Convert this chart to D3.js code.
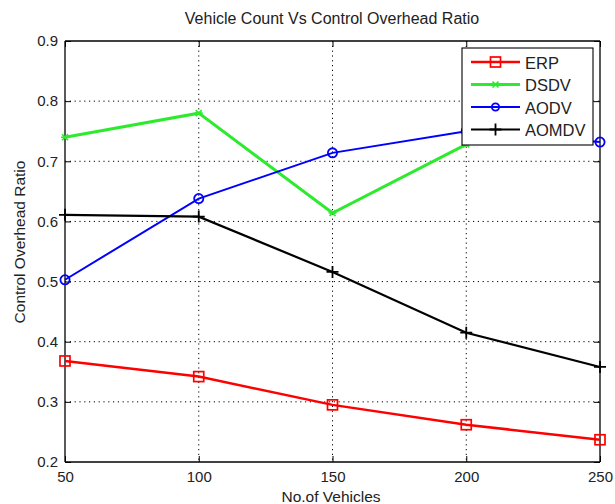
<!DOCTYPE html>
<html><head><meta charset="utf-8">
<script src="https://cdn.jsdelivr.net/npm/d3@7"></script>
<style>
body{margin:0;background:#fff;}
svg{display:block;font-family:"Liberation Sans",Arial,sans-serif;}
</style></head><body>
<svg id="c" width="615" height="504"></svg>
<script>
const vehicles = [50, 100, 150, 200, 250];
const erp   = [0.368, 0.342, 0.295, 0.262, 0.237];
const dsdv  = [0.740, 0.780, 0.614, 0.728];
const aodv  = [0.503, 0.638, 0.714, 0.750, 0.732];
const aomdv = [0.611, 0.608, 0.516, 0.415, 0.358];
const yTicks = [0.2, 0.3, 0.4, 0.5, 0.6, 0.7, 0.8, 0.9];
const xTicks = [50, 100, 150, 200, 250];
const seriesNames = ["ERP", "DSDV", "AODV", "AOMDV"];

const series = [
  {name: seriesNames[0], values: erp,   color: "#ff0000", width: 2.5, marker: "square"},
  {name: seriesNames[1], values: dsdv,  color: "#2eea2e", width: 3,   marker: "x"},
  {name: seriesNames[2], values: aodv,  color: "#0000ff", width: 2,   marker: "circle"},
  {name: seriesNames[3], values: aomdv, color: "#000000", width: 2.2, marker: "plus"}
];

const svg = d3.select("#c");
const L = 65, R = 600, T = 41, B = 462;
const x = d3.scaleLinear().domain([50, 250]).range([L, R]);
const y = d3.scaleLinear().domain([0.2, 0.9]).range([B, T]);

// grid
const g = svg.append("g");
g.selectAll(".gx").data(xTicks.slice(1, -1)).enter().append("line")
  .attr("x1", d => x(d)).attr("x2", d => x(d)).attr("y1", T).attr("y2", B)
  .attr("stroke", "#000").attr("stroke-width", 1).attr("stroke-dasharray", "1.2,3.6");
g.selectAll(".gy").data(yTicks.slice(1, -1)).enter().append("line")
  .attr("y1", d => y(d)).attr("y2", d => y(d)).attr("x1", L).attr("x2", R)
  .attr("stroke", "#000").attr("stroke-width", 1).attr("stroke-dasharray", "1.2,3.6");

// axes (ticks inward)
const axB = d3.axisBottom(x).tickValues(xTicks).tickSize(-6).tickPadding(9).tickFormat(d3.format("d"));
const axT = d3.axisTop(x).tickValues(xTicks).tickSize(-6).tickFormat("");
const axLft = d3.axisLeft(y).tickValues(yTicks).tickSize(-6).tickPadding(7).tickFormat(d3.format(".1f"));
const axRt = d3.axisRight(y).tickValues(yTicks).tickSize(-6).tickFormat("");
function styleAxis(s){
  s.select(".domain").attr("stroke", "#000").attr("stroke-width", 1.3);
  s.selectAll(".tick line").attr("stroke", "#000");
  s.selectAll("text").attr("fill", "#222").style("font-size", "15px").style("font-family", "'Liberation Sans',Arial,sans-serif");
}
svg.append("g").attr("transform", `translate(0,${B})`).call(axB).call(styleAxis)
  .call(s => s.select(".domain").attr("d", `M${L},0H${R}`));
svg.append("g").attr("transform", `translate(0,${T})`).call(axT).call(styleAxis)
  .call(s => s.select(".domain").attr("d", `M${L},0H${R}`));
svg.append("g").attr("transform", `translate(${L},0)`).call(axLft).call(styleAxis)
  .call(s => s.select(".domain").attr("d", `M0,${B}V${T}`));
svg.append("g").attr("transform", `translate(${R},0)`).call(axRt).call(styleAxis)
  .call(s => s.select(".domain").attr("d", `M0,${B}V${T}`));

// marker drawing
function drawMarker(sel, type, color, small){
  const k = small ? 0.8 : 1;
  if (type === "square") {
    sel.append("rect").attr("x", -5).attr("y", -5).attr("width", 10).attr("height", 10)
      .attr("fill", "none").attr("stroke", color).attr("stroke-width", 1.7);
  } else if (type === "circle") {
    sel.append("circle").attr("r", 4.6 * k).attr("fill", "none").attr("stroke", color).attr("stroke-width", 1.8);
  } else if (type === "plus") {
    sel.append("path").attr("d", "M-6,0H6M0,-6V6").attr("stroke", color).attr("stroke-width", 1.8);
  } else if (type === "x") {
    sel.append("path").attr("d", "M-3,-3L3,3M-3,3L3,-3M-4,0H4").attr("stroke", color).attr("stroke-width", 1.7);
  }
}

const line = d3.line().x((d, i) => x(vehicles[i])).y(d => y(d));
series.forEach(s => {
  svg.append("path").datum(s.values).attr("d", line)
    .attr("fill", "none").attr("stroke", s.color).attr("stroke-width", s.width);
  s.values.forEach((v, i) => {
    const m = svg.append("g").attr("transform", `translate(${x(vehicles[i])},${y(v)})`);
    drawMarker(m, s.marker, s.color, false);
  });
});

// legend
const lg = svg.append("g");
lg.append("rect").attr("x", 462).attr("y", 48).attr("width", 131).attr("height", 97)
  .attr("fill", "#fff").attr("stroke", "#000").attr("stroke-width", 1.1);
series.forEach((s, i) => {
  const yy = 62 + i * 22.5;
  lg.append("line").attr("x1", 471).attr("x2", 520).attr("y1", yy).attr("y2", yy)
    .attr("stroke", s.color).attr("stroke-width", s.width);
  const m = lg.append("g").attr("transform", `translate(495.5,${yy})`);
  drawMarker(m, s.marker, s.color, true);
  lg.append("text").attr("x", 525).attr("y", yy + 6.5).text(s.name)
    .attr("fill", "#222").style("font-size", "16.5px");
});

// titles
svg.append("text").attr("x", 332).attr("y", 24).attr("text-anchor", "middle")
  .style("font-size", "16px").attr("fill", "#222").text("Vehicle Count Vs Control Overhead Ratio");
svg.append("text").attr("x", 331).attr("y", 502).attr("text-anchor", "middle")
  .style("font-size", "15.5px").attr("fill", "#222").text("No.of Vehicles");
svg.append("text").attr("transform", "translate(25,242) rotate(-90)").attr("text-anchor", "middle")
  .style("font-size", "15.5px").attr("fill", "#222").text("Control Overhead Ratio");
</script></body></html>
